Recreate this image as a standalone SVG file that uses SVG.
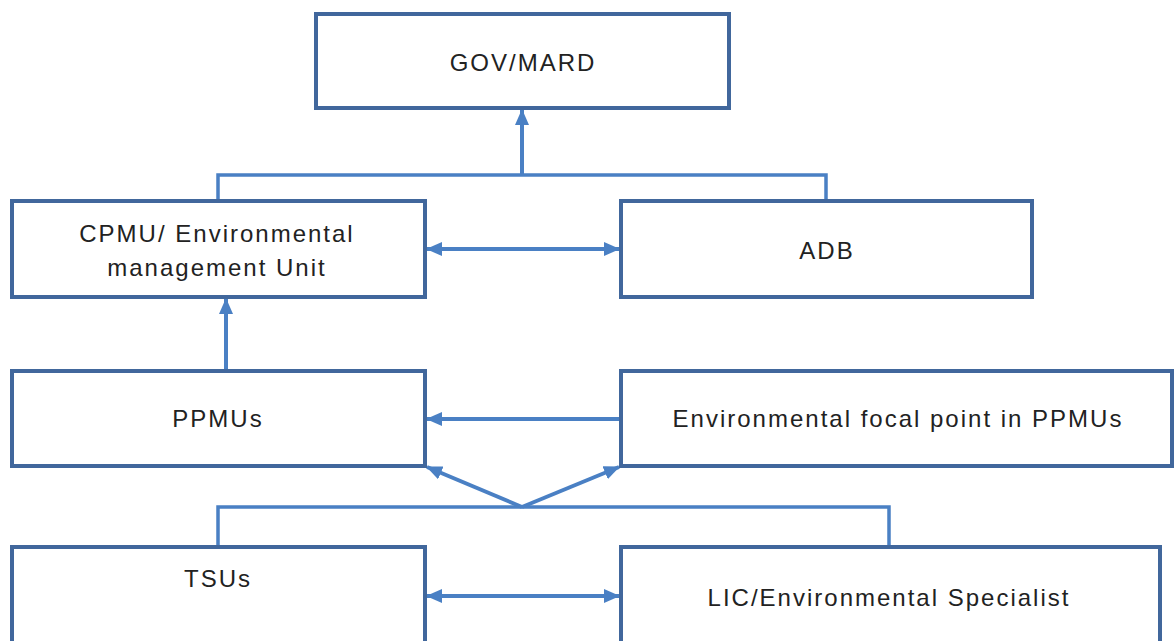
<svg xmlns="http://www.w3.org/2000/svg" width="1174" height="641" viewBox="0 0 1174 641">
<defs>
<style>
.box{fill:#ffffff;stroke:#41679c;stroke-width:4}
.lbl{font-family:"Liberation Sans",Arial,sans-serif;font-size:24px;fill:#222222;text-anchor:middle;letter-spacing:2px}
.con{fill:none;stroke:#4a80c4;stroke-width:4}
.bus{fill:none;stroke:#4a80c4;stroke-width:3.5}
</style>
<marker id="ah" markerUnits="userSpaceOnUse" markerWidth="16" markerHeight="14" refX="15" refY="7" orient="auto-start-reverse">
<path d="M0,0 L16,7 L0,14 Z" fill="#4a80c4"/>
</marker>
</defs>
<rect width="1174" height="641" fill="#ffffff"/>
<g id="connectors">
<path class="bus" d="M218 200 V175 H826 V200"/>
<path class="con" d="M522 175 V110" marker-end="url(#ah)"/>
<path class="con" d="M427 249 H619" marker-start="url(#ah)" marker-end="url(#ah)"/>
<path class="con" d="M226 371 V299" marker-end="url(#ah)"/>
<path class="con" d="M621 419 H427" marker-end="url(#ah)"/>
<path class="bus" d="M218 546 V507 H889 V546"/>
<path class="con" d="M522 507 L427 467" marker-end="url(#ah)"/>
<path class="con" d="M522 507 L619 467" marker-end="url(#ah)"/>
<path class="con" d="M427 596 H619" marker-start="url(#ah)" marker-end="url(#ah)"/>
</g>
<g id="gov">
<rect class="box" x="316" y="14" width="413" height="94"/>
<text class="lbl" x="523" y="71">GOV/MARD</text>
</g>
<g id="cpmu">
<rect class="box" x="12" y="201" width="413" height="96"/>
<text class="lbl" x="217" y="242">CPMU/ Environmental</text>
<text class="lbl" x="217" y="276">management Unit</text>
</g>
<g id="adb">
<rect class="box" x="621" y="201" width="411" height="96"/>
<text class="lbl" x="827" y="259">ADB</text>
</g>
<g id="ppmus">
<rect class="box" x="12" y="371" width="413" height="95"/>
<text class="lbl" x="218" y="427">PPMUs</text>
</g>
<g id="focal">
<rect class="box" x="621" y="371" width="551" height="95"/>
<text class="lbl" x="898" y="427">Environmental focal point in PPMUs</text>
</g>
<g id="tsus">
<rect class="box" x="12" y="547" width="413" height="110"/>
<text class="lbl" x="218" y="587">TSUs</text>
</g>
<g id="lic">
<rect class="box" x="621" y="547" width="539" height="110"/>
<text class="lbl" x="889" y="606">LIC/Environmental Specialist</text>
</g>
</svg>
